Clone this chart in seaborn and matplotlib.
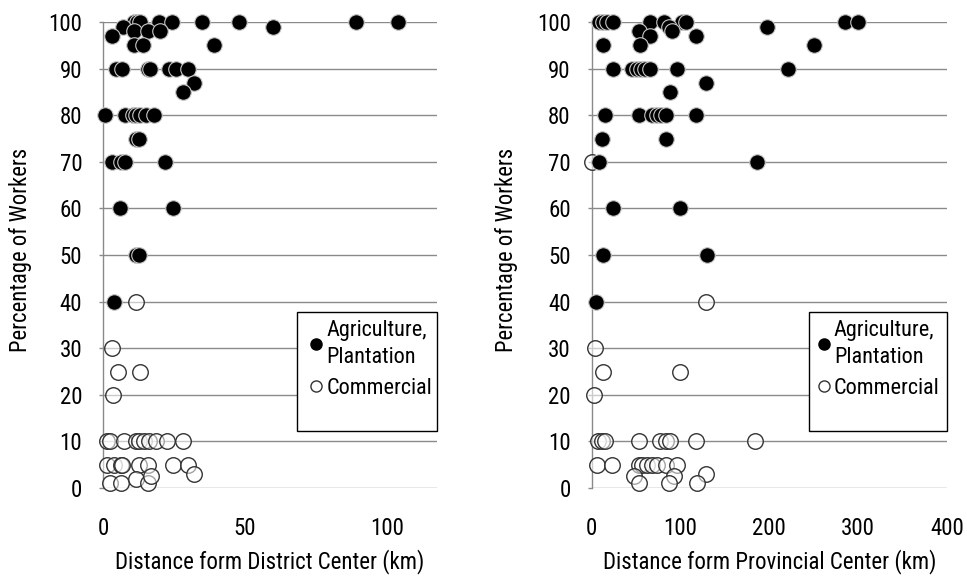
import matplotlib
matplotlib.use("Agg")
import matplotlib.pyplot as plt
from matplotlib.patches import Rectangle
from matplotlib.lines import Line2D
import seaborn as sns
import pandas as pd

# ---------------- data ----------------
# District panel: agriculture / plantation workers
dist_agri_km = [11, 12, 13, 19.8, 24.3, 35, 48, 89, 104,
                7, 60, 3, 11, 16, 20,
                11, 14, 39,
                4.5, 6.8, 15.7, 16.5, 23.3, 25.7, 29.8,
                32, 28,
                0.6, 7.6, 10.5, 11.6, 13, 15.2, 18,
                11.6, 12.8,
                3.3, 6.5, 7.8, 21.9,
                5.9, 24.8,
                11.6, 12.8,
                3.9]
dist_agri_pct = [100, 100, 100, 100, 100, 100, 100, 100, 100,
                 99, 99, 97, 98, 98, 98,
                 95, 95, 95,
                 90, 90, 90, 90, 90, 90, 90,
                 87, 85,
                 80, 80, 80, 80, 80, 80, 80,
                 75, 75,
                 70, 70, 70, 70,
                 60, 60,
                 50, 50,
                 40]
# District panel: commercial workers
dist_comm_km = [11.6,
                3.3,
                5.4, 13.1,
                3.5,
                1.5, 2.3, 7.4, 11.6, 12.8, 14.5, 16.3, 18.6, 22.4, 28,
                1.5, 3.9, 6.2, 6.8, 12.8, 16, 24.5, 29.8,
                32,
                2.3, 6.5, 11.6, 16, 17]
dist_comm_pct = [40,
                 30,
                 25, 25,
                 20,
                 10, 10, 10, 10, 10, 10, 10, 10, 10, 10,
                 5, 5, 5, 5, 5, 5, 5, 5,
                 3,
                 1, 1, 2, 1, 2.5]

# Provincial panel: agriculture / plantation workers
prov_agri_km = [8.8, 13, 17.2, 24, 66.2, 81.2, 102, 105.8, 285, 300,
                198, 87, 53, 66, 91, 118,
                13.4, 54.9, 249.8,
                24.7, 45.5, 51, 55.6, 60.5, 66.2, 96.4, 220.8,
                128.4, 88,
                15.3, 53, 68.1, 73.8, 78.3, 83.3, 117.1,
                12.3, 83.9,
                8.8, 186,
                24.7, 100,
                13.4, 130.3,
                5.1]
prov_agri_pct = [100, 100, 100, 100, 100, 100, 100, 100, 100, 100,
                 99, 99, 98, 97, 98, 97,
                 95, 95, 95,
                 90, 90, 90, 90, 90, 90, 90, 90,
                 87, 85,
                 80, 80, 80, 80, 80, 80, 80,
                 75, 75,
                 70, 70,
                 60, 60,
                 50, 50,
                 40]
# Provincial panel: commercial workers
prov_comm_km = [129.2,
                1,
                4,
                12.7, 100,
                2.8,
                7.7, 11.5, 15.3, 53, 77.5, 83.3, 88.8, 117.1, 184.2,
                6.5, 23.6, 53, 56.8, 62.4, 68.1, 73.8, 83.3, 96.4,
                47.3, 92.5, 128.4,
                53, 86.9, 118.2]
prov_comm_pct = [40,
                 70,
                 30,
                 25, 25,
                 20,
                 10, 10, 10, 10, 10, 10, 10, 10, 10,
                 5, 5, 5, 5, 5, 5, 5, 5, 5,
                 2.5, 2.5, 3,
                 1, 1, 1]

y_ticks = [0, 10, 20, 30, 40, 50, 60, 70, 80, 90, 100]
dist_x_ticks = [0, 50, 100]
prov_x_ticks = [0, 100, 200, 300, 400]
series_labels = ["Agriculture,\nPlantation", "Commercial"]
x_titles = ["Distance form District Center (km)", "Distance form Provincial Center (km)"]
y_title = "Percentage of Workers"

# ---------------- style ----------------
sns.set_theme(style="white")
plt.rcParams["font.family"] = ["Roboto Condensed", "Liberation Sans", "DejaVu Sans"]
TXT = "#000000"
GRID = "#8a8a8a"

fig = plt.figure(figsize=(9.67, 5.82), dpi=100)
ax1 = fig.add_axes([103 / 967, 1 - 488 / 582, 334 / 967, 466 / 582])
ax2 = fig.add_axes([591.5 / 967, 1 - 488 / 582, 355.5 / 967, 466 / 582])

panels = [
    (ax1, dist_agri_km, dist_agri_pct, dist_comm_km, dist_comm_pct, (0, 117.6),
     dist_x_ticks, x_titles[0], 0.581, 0.011, -0.213),
    (ax2, prov_agri_km, prov_agri_pct, prov_comm_km, prov_comm_pct, (0, 400),
     prov_x_ticks, x_titles[1], 0.612, -0.002, -0.206),
]

MS = 125
for ax, ak, ap, ck, cp, xlim, xt, xtitle, box_x0, leg_dx, ylab_x in panels:
    dfa = pd.DataFrame({"km": ak, "pct": ap})
    dfc = pd.DataFrame({"km": ck, "pct": cp})
    sns.scatterplot(data=dfc, x="km", y="pct", ax=ax, s=MS, marker="o",
                    facecolor=(1, 1, 1, 0.55), edgecolor="#333333", linewidth=1.0,
                    clip_on=False, zorder=3)
    sns.scatterplot(data=dfa, x="km", y="pct", ax=ax, s=MS, marker="o",
                    color="black", edgecolor="#c8c8c8", linewidth=0.8,
                    clip_on=False, zorder=4)
    ax.set_xlim(*xlim)
    ax.set_ylim(0, 100)
    ax.set_xticks(xt)
    ax.set_yticks(y_ticks)
    ax.yaxis.grid(True, color=GRID, linewidth=1.0, zorder=0)
    ax.xaxis.grid(False)
    ax.set_axisbelow(True)
    for sp in ["top", "right", "bottom"]:
        ax.spines[sp].set_visible(False)
    ax.spines["left"].set_color(GRID)
    ax.spines["left"].set_linewidth(1.0)
    ax.tick_params(axis="y", which="major", left=True, length=3, width=1.0,
                   color=GRID, pad=12, labelsize=16.5, labelcolor=TXT)
    ax.tick_params(axis="x", which="major", bottom=False, length=0, pad=21,
                   labelsize=16.5, labelcolor=TXT)
    ax.set_xlabel(xtitle, fontsize=16.5, color=TXT)
    ax.set_ylabel(y_title, fontsize=16.3, color=TXT)
    ax.xaxis.set_label_coords(0.5, -0.131)
    ax.yaxis.set_label_coords(ylab_x, 0.51)

    # legend box (Excel style, taller than its entries)
    rect = Rectangle((box_x0, 0.122), 1.0 - box_x0, 0.256, transform=ax.transAxes,
                     facecolor="white", edgecolor="black", linewidth=1.0,
                     clip_on=False, zorder=10)
    ax.add_patch(rect)
    handles = [
        Line2D([], [], linestyle="none", marker="o", markersize=8,
               markerfacecolor="black", markeredgecolor="black"),
        Line2D([], [], linestyle="none", marker="o", markersize=8,
               markerfacecolor="white", markeredgecolor="#333333", markeredgewidth=1.0),
    ]
    leg = ax.legend(handles, series_labels, loc="upper left",
                    bbox_to_anchor=(box_x0 + leg_dx, 0.378), frameon=False,
                    fontsize=16, handlelength=0.7, handletextpad=0.1,
                    borderaxespad=0.0, borderpad=0.35, labelspacing=0.45)
    for t in leg.get_texts():
        t.set_color(TXT)
        t.set_linespacing(1.38)
    leg.set_zorder(11)

fig.savefig("out.png", dpi=100)
